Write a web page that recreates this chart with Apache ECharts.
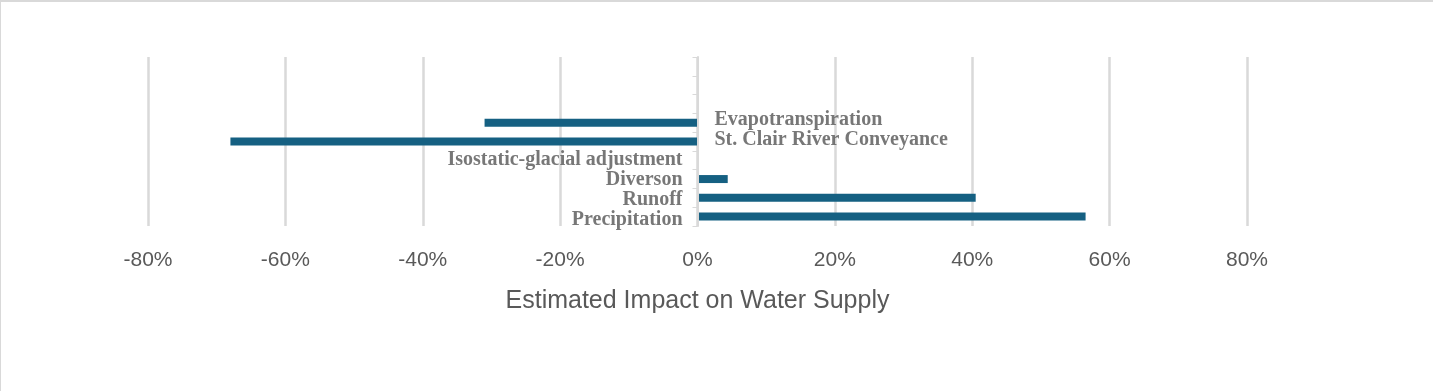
<!DOCTYPE html>
<html>
<head>
<meta charset="utf-8">
<script src="https://cdn.jsdelivr.net/npm/echarts@6/dist/echarts.min.js"></script>
<style>
  html, body { margin: 0; padding: 0; background: #fff; }
  #chart { width: 1433px; height: 391px; box-sizing: border-box; border-top: 2px solid #d9d9d9; border-left: 1px solid #d9d9d9; }
</style>
</head>
<body>
<div id="chart"></div>
<script>
// Categories listed bottom to top
const categories = ['Precipitation', 'Runoff', 'Diverson', 'Isostatic-glacial adjustment', 'St. Clair River Conveyance', 'Evapotranspiration', '', '', ''];
// Estimated impact (%)
const impact = [56.5, 40.5, 4.4, 0, -68, -31, null, null, null];
const xTickMin = -80;
const xTickMax = 80;
const xTickStep = 20;
const axisTitle = 'Estimated Impact on Water Supply';

const chart = echarts.init(document.getElementById('chart'));

const labelPoints = categories
  .map((c, i) => ({ c, i }))
  .filter(d => d.c !== '')
  .map(d => ({
    value: [0, d.c],
    label: {
      show: true,
      position: impact[d.i] < 0 ? 'right' : 'left',
      distance: impact[d.i] < 0 ? 17 : 15,
      offset: [0, (2.5 - d.i) * 1.3],
      formatter: d.c
    }
  }));

chart.setOption({
  animation: false,
  grid: { left: 147, right: 186, top: 55, bottom: 165, containLabel: false },
  xAxis: {
    type: 'value',
    min: xTickMin,
    max: xTickMax,
    interval: xTickStep,
    axisLine: { show: false },
    axisTick: { show: false },
    splitLine: { show: true, lineStyle: { color: '#d9d9d9', width: 2.5 } },
    axisLabel: {
      formatter: '{value}%',
      color: '#595959',
      fontFamily: 'Liberation Sans',
      fontSize: 21,
      margin: 24
    },
    name: axisTitle,
    nameLocation: 'middle',
    nameGap: 63,
    nameTextStyle: { color: '#595959', fontFamily: 'Liberation Sans', fontSize: 25 }
  },
  yAxis: {
    type: 'category',
    data: categories,
    boundaryGap: true,
    z: 5,
    axisLine: { show: true, onZero: true, lineStyle: { color: '#d9d9d9', width: 2 } },
    axisTick: { show: true, length: 5, lineStyle: { color: '#d9d9d9', width: 1 } },
    axisLabel: { show: false },
    splitLine: { show: false }
  },
  series: [
    {
      type: 'bar',
      data: impact,
      barWidth: 8,
      itemStyle: { color: '#156082' },
      silent: true
    },
    {
      type: 'scatter',
      data: labelPoints,
      symbolSize: 0,
      silent: true,
      z: 10,
      label: {
        show: true,
        color: '#555555',
        fontFamily: 'Liberation Serif',
        fontWeight: 'bold',
        fontSize: 20
      }
    }
  ]
});
</script>
</body>
</html>
